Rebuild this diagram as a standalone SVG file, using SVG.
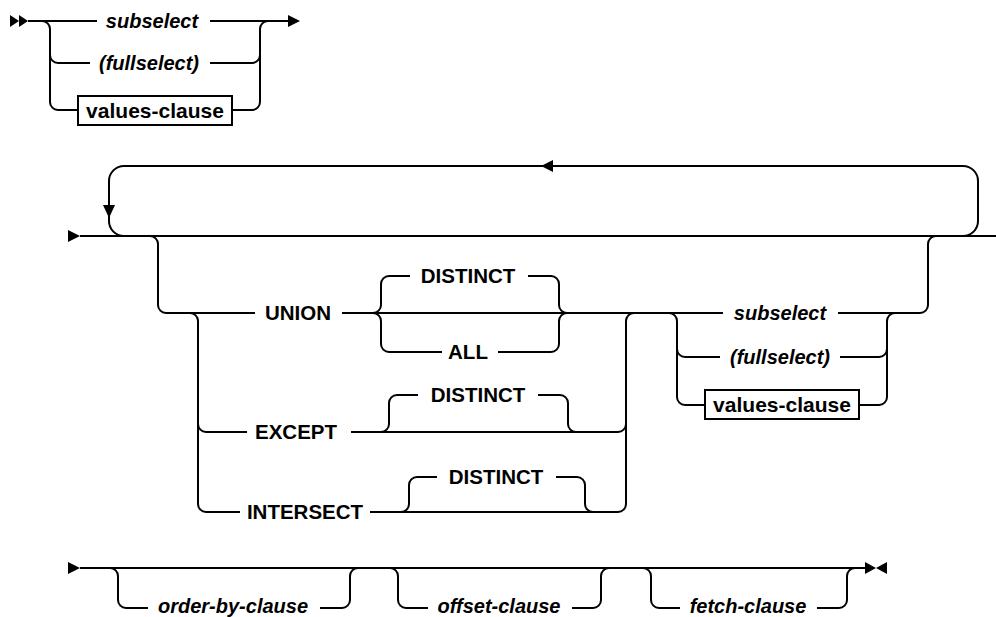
<svg xmlns="http://www.w3.org/2000/svg" width="996" height="617" viewBox="0 0 996 617">
<style>
.ln{fill:none;stroke:#000;stroke-width:2}
.ar{fill:#000;stroke:none}
.t{font-family:"Liberation Sans",Arial,sans-serif;font-size:20.5px;font-weight:bold;fill:#000;text-anchor:middle}
.i{font-style:italic;font-size:20px}
.v{font-size:21px}
.bx{fill:#fff;stroke:#000;stroke-width:2}
</style>
<rect width="996" height="617" fill="#fff"/>
<g id="connectors">
  <!-- top section -->
  <polygon class="ar" points="10,15 19,21 10,27"/>
  <polygon class="ar" points="19,15 28,21 19,27"/>
  <path class="ln" d="M28,21 H97"/>
  <path class="ln" d="M210,21 H290"/>
  <polygon class="ar" points="288,15 300,21 288,27"/>
  <path class="ln" d="M42,21 A8,8 0 0 1 50,29 V102 A8,8 0 0 0 58,110 H78"/>
  <path class="ln" d="M50,55 A8,8 0 0 0 58,63 H90"/>
  <path class="ln" d="M232,110 H252 A8,8 0 0 0 260,102 V29 A8,8 0 0 1 268,21"/>
  <path class="ln" d="M210,63 H252 A8,8 0 0 0 260,55"/>
  <!-- middle section -->
  <polygon class="ar" points="68,230 80,236 68,242"/>
  <path class="ln" d="M80,236 H996"/>
  <path class="ln" d="M963,236 A15,15 0 0 0 978,221 V181 A15,15 0 0 0 963,166 H124 A15,15 0 0 0 109,181 V221 A15,15 0 0 0 124,236"/>
  <polygon class="ar" points="103,205 115,205 109,218"/>
  <polygon class="ar" points="553,160 541,166 553,172"/>
  <path class="ln" d="M150,236 A8,8 0 0 1 158,244 V305 A8,8 0 0 0 166,313 H255"/>
  <path class="ln" d="M342,313 H723"/>
  <path class="ln" d="M838,313 H920 A8,8 0 0 0 928,305 V244 A8,8 0 0 1 936,236"/>
  <path class="ln" d="M190,313 A8,8 0 0 1 198,321 V504 A8,8 0 0 0 206,512 H240"/>
  <path class="ln" d="M198,424 A8,8 0 0 0 206,432 H247"/>
  <path class="ln" d="M351,432 H618 A8,8 0 0 0 626,424"/>
  <path class="ln" d="M370,512 H618 A8,8 0 0 0 626,504 V321 A8,8 0 0 1 634,313"/>
  <!-- UNION DISTINCT / ALL -->
  <path class="ln" d="M373,313 A8,8 0 0 0 381,305 V284 A8,8 0 0 1 389,276 H410"/>
  <path class="ln" d="M528,276 H551 A8,8 0 0 1 559,284 V305 A8,8 0 0 0 567,313"/>
  <path class="ln" d="M373,313 A8,8 0 0 1 381,321 V344 A8,8 0 0 0 389,352 H442"/>
  <path class="ln" d="M498,352 H551 A8,8 0 0 0 559,344 V321 A8,8 0 0 1 567,313"/>
  <!-- EXCEPT DISTINCT -->
  <path class="ln" d="M381,432 A8,8 0 0 0 389,424 V403 A8,8 0 0 1 397,395 H418"/>
  <path class="ln" d="M538,395 H560 A8,8 0 0 1 568,403 V424 A8,8 0 0 0 576,432"/>
  <!-- INTERSECT DISTINCT -->
  <path class="ln" d="M401,512 A8,8 0 0 0 409,504 V485 A8,8 0 0 1 417,477 H437"/>
  <path class="ln" d="M556,477 H577 A8,8 0 0 1 585,485 V504 A8,8 0 0 0 593,512"/>
  <!-- subselect choice -->
  <path class="ln" d="M669,313 A8,8 0 0 1 677,321 V397 A8,8 0 0 0 685,405 H705"/>
  <path class="ln" d="M677,349 A8,8 0 0 0 685,357 H720"/>
  <path class="ln" d="M840,357 H879 A8,8 0 0 0 887,349"/>
  <path class="ln" d="M859,405 H879 A8,8 0 0 0 887,397 V321 A8,8 0 0 1 895,313"/>
  <!-- bottom section -->
  <polygon class="ar" points="68,562 80,568 68,574"/>
  <path class="ln" d="M80,568 H866"/>
  <polygon class="ar" points="865,562 876,568 865,574"/>
  <polygon class="ar" points="887,562 876,568 887,574"/>
  <path class="ln" d="M110,568 A8,8 0 0 1 118,576 V600 A8,8 0 0 0 126,608 H148"/>
  <path class="ln" d="M320,608 H342 A8,8 0 0 0 350,600 V576 A8,8 0 0 1 358,568"/>
  <path class="ln" d="M390,568 A8,8 0 0 1 398,576 V600 A8,8 0 0 0 406,608 H428"/>
  <path class="ln" d="M572,608 H593 A8,8 0 0 0 601,600 V576 A8,8 0 0 1 609,568"/>
  <path class="ln" d="M643,568 A8,8 0 0 1 651,576 V600 A8,8 0 0 0 659,608 H680"/>
  <path class="ln" d="M817,608 H839 A8,8 0 0 0 847,600 V576 A8,8 0 0 1 855,568"/>
</g>
<g id="top-subselect"><text class="t i" x="152" y="28">subselect</text></g>
<g id="top-fullselect"><text class="t i" x="149" y="70">(fullselect)</text></g>
<g id="top-values-clause"><rect class="bx" x="78" y="96" width="154" height="29"/><text class="t v" x="155" y="118">values-clause</text></g>
<g id="union"><text class="t" x="298" y="320">UNION</text></g>
<g id="union-distinct"><text class="t" x="468" y="283">DISTINCT</text></g>
<g id="union-all"><text class="t" x="468" y="359">ALL</text></g>
<g id="except"><text class="t" x="296" y="439">EXCEPT</text></g>
<g id="except-distinct"><text class="t" x="478" y="402">DISTINCT</text></g>
<g id="intersect"><text class="t" x="305" y="519">INTERSECT</text></g>
<g id="intersect-distinct"><text class="t" x="496" y="484">DISTINCT</text></g>
<g id="mid-subselect"><text class="t i" x="780" y="320">subselect</text></g>
<g id="mid-fullselect"><text class="t i" x="780" y="364">(fullselect)</text></g>
<g id="mid-values-clause"><rect class="bx" x="705" y="390" width="154" height="29"/><text class="t v" x="782" y="412">values-clause</text></g>
<g id="order-by-clause"><text class="t i" x="233" y="613">order-by-clause</text></g>
<g id="offset-clause"><text class="t i" x="499" y="613">offset-clause</text></g>
<g id="fetch-clause"><text class="t i" x="748" y="613">fetch-clause</text></g>
</svg>
